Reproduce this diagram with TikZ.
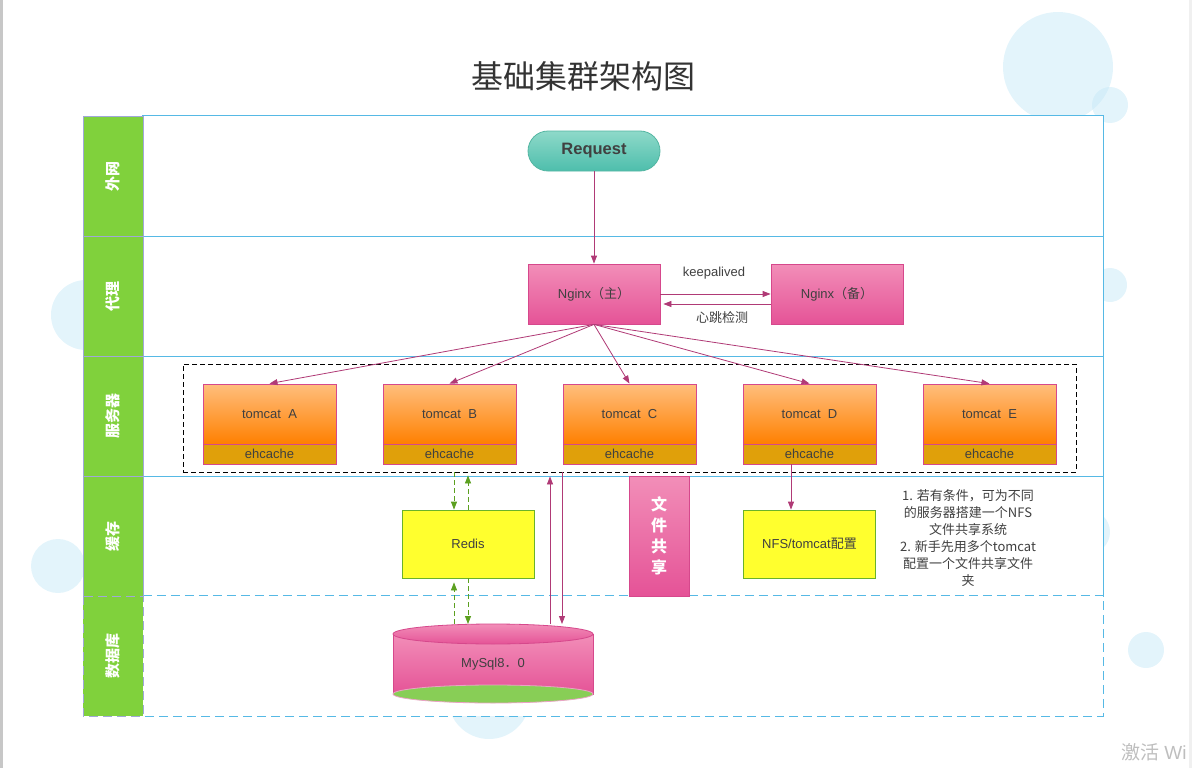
\documentclass[tikz,border=0pt]{standalone}
\usepackage{fontspec}
\setmainfont{Liberation Sans}
\newfontfamily\cjk{Noto Sans CJK SC}
\usetikzlibrary{arrows.meta}
\definecolor{Ink}{RGB}{64,64,64}
\definecolor{TitleInk}{RGB}{51,51,51}
\definecolor{LaneBlue}{RGB}{86,185,229}
\definecolor{LaneGreen}{RGB}{128,209,60}
\definecolor{HeadEdge}{RGB}{160,168,216}
\definecolor{Plum}{RGB}{176,58,118}
\definecolor{PinkTop}{RGB}{242,142,184}
\definecolor{PinkBot}{RGB}{229,83,151}
\definecolor{PinkEdge}{RGB}{214,72,140}
\definecolor{OrangeTop}{RGB}{255,190,125}
\definecolor{OrangeBot}{RGB}{255,128,0}
\definecolor{Ehcache}{RGB}{224,160,10}
\definecolor{Lemon}{RGB}{255,255,46}
\definecolor{LemonEdge}{RGB}{106,178,42}
\definecolor{TealTop}{RGB}{142,217,201}
\definecolor{TealBot}{RGB}{78,190,172}
\definecolor{TealEdge}{RGB}{84,182,162}
\definecolor{Bubble}{RGB}{199,233,247}
\definecolor{DbGreen}{RGB}{136,206,86}
\definecolor{CacheGreen}{RGB}{92,160,32}
\definecolor{Watermark}{RGB}{190,190,190}
\tikzset{
  >={Triangle[length=8pt,width=6pt]},
  box/.style={draw=PinkEdge,line width=0.8pt,align=center,text=Ink,font=\fontsize{13}{15}\selectfont,inner sep=2pt},
  proxy/.style={box,top color=PinkTop,bottom color=PinkBot,minimum width=132pt,minimum height=60pt},
  tomcat/.style={box,top color=OrangeTop,bottom color=OrangeBot,minimum width=133pt,minimum height=60pt},
  ehcache/.style={box,fill=Ehcache,minimum width=133pt,minimum height=20pt},
  cachebox/.style={box,draw=LemonEdge,fill=Lemon,minimum width=132pt,minimum height=68pt},
  share/.style={box,top color=PinkTop,bottom color=PinkBot,minimum width=60pt,minimum height=120pt,text=white,font=\cjk\bfseries\fontsize{16}{21}\selectfont},
  request/.style={box,draw=TealEdge,top color=TealTop,bottom color=TealBot,rounded corners=20pt,minimum width=132pt,minimum height=40pt,font=\bfseries\fontsize{16.5}{19}\selectfont},
  lanehead/.style={draw=HeadEdge,fill=LaneGreen,line width=0.8pt,text=white,font=\cjk\bfseries\fontsize{15}{18}\selectfont,minimum width=120pt,minimum height=60pt,rotate=90},
  lane/.style={fill=white,minimum width=960pt,minimum height=120pt},
  laneline/.style={draw=LaneBlue,line width=1.1pt},
  group/.style={draw=black,line width=0.8pt,dash pattern=on 5pt off 3pt,minimum width=893pt,minimum height=108pt},
  note/.style={text=Ink,align=center,font=\cjk\fontsize{13}{17}\selectfont},
  label/.style={text=Ink,font=\fontsize{13}{15}\selectfont},
  title/.style={text=TitleInk,font=\cjk\fontsize{32}{36}\selectfont},
  flow/.style={->,draw=Plum,line width=0.8pt},
  cache/.style={->,draw=CacheGreen,line width=0.8pt,dash pattern=on 5pt off 3pt},
  bubble/.style={fill=Bubble,fill opacity=0.5}
}
\begin{document}
\begin{tikzpicture}[x=1pt,y=-1pt]
  \useasboundingbox (0,0) rectangle (1192,768);
  \fill[bubble] (1058,67) circle[radius=55pt];
  \fill[bubble] (1110,105) circle[radius=18pt];
  \fill[bubble] (1110,285) circle[radius=17pt];
  \fill[bubble] (86,315) circle[radius=35pt];
  \fill[bubble] (58,566) circle[radius=27pt];
  \fill[bubble] (1088,532) circle[radius=22pt];
  \fill[bubble] (1146,650) circle[radius=18pt];
  \fill[bubble] (489,698) circle[radius=41pt];
  \fill[black!22] (0,0) rectangle (3,768);
  \fill[black!6] (1189,0) rectangle (1192,768);
  \node[title] (ttl) at (583,76) {基础集群架构图};
  \node[lane] (l1) at (623,176) {};
  \node[lane] (l2) at (623,296) {};
  \node[lane] (l3) at (623,416) {};
  \node[lane] (l4) at (623,536) {};
  \node[lane] (l5) at (623,656) {};
  \draw[laneline] (l4.south west) -- (l1.north west) -- (l1.north east) -- (l4.south east);
  \draw[laneline] (l1.south west) -- (l1.south east);
  \draw[laneline] (l2.south west) -- (l2.south east);
  \draw[laneline] (l3.south west) -- (l3.south east);
  \draw[laneline,dash pattern=on 9pt off 5pt] (l5.north west) -- (l5.north east) -- (l5.south east) -- (l5.south west);
  \node[lanehead] (h1) at (113,176) {外网};
  \node[lanehead] (h2) at (113,296) {代理};
  \node[lanehead] (h3) at (113,416) {服务器};
  \node[lanehead] (h4) at (113,536) {缓存};
  \node[lanehead,dash pattern=on 9pt off 5pt] (h5) at (113,656) {数据库};
  \node[request] (req) at (594,151) {Request};
  \node[proxy] (ngm) at (594,294) {Nginx{\cjk（主）}};
  \node[proxy] (ngb) at (837,294) {Nginx{\cjk（备）}};
  \node[label] (ka) at (714,273) {keepalived};
  \node[label,font=\cjk\fontsize{13}{15}\selectfont] (hb) at (722,318) {心跳检测};
  \node[group] (srv) at (629.5,418) {};
  \node[tomcat] (tA) at (269.5,414) {tomcat~~A};
  \node[ehcache] (eA) at (269.5,454) {ehcache};
  \node[tomcat] (tB) at (449.5,414) {tomcat~~B};
  \node[ehcache] (eB) at (449.5,454) {ehcache};
  \node[tomcat] (tC) at (629.5,414) {tomcat~~C};
  \node[ehcache] (eC) at (629.5,454) {ehcache};
  \node[tomcat] (tD) at (809.5,414) {tomcat~~D};
  \node[ehcache] (eD) at (809.5,454) {ehcache};
  \node[tomcat] (tE) at (989.5,414) {tomcat~~E};
  \node[ehcache] (eE) at (989.5,454) {ehcache};
  \node[cachebox] (redis) at (468,544) {Redis};
  \node[share] (share) at (659,536) {文\\件\\共\\享};
  \node[cachebox] (nfs) at (809.5,544) {NFS/tomcat{\cjk 配置}};
  \node[note] (tip) at (968,538) {1. 若有条件，可为不同\\的服务器搭建一个NFS\\文件共享系统\\2. 新手先用多个tomcat\\配置一个文件共享文件\\夹};
  \coordinate (dbtop) at (493,634);
  \coordinate (dbbot) at (493,694);
  \coordinate (dbrim) at (493,624);
  \draw[draw=PinkEdge,line width=0.8pt,top color=PinkTop,bottom color=PinkBot] (dbtop) ++(-100,0) -- ++(0,60) -- ++(200,0) -- ++(0,-60) -- cycle;
  \draw[draw=PinkEdge!50,line width=0.8pt,fill=DbGreen] (dbbot) ellipse[x radius=100pt,y radius=9pt];
  \draw[draw=PinkEdge,line width=0.8pt,top color=PinkTop,bottom color=PinkBot] (dbtop) ellipse[x radius=100pt,y radius=10pt];
  \node[label] (db) at (493,664) {MySql8{\cjk ．}0};
  \coordinate (cL) at (454,0);
  \coordinate (cR) at (468,0);
  \coordinate (mU) at (550,0);
  \coordinate (mD) at (562,0);
  \coordinate (nD) at (791,0);
  \draw[flow] (req.south) -- (ngm.north);
  \draw[flow] (ngm.east) -- (ngb.west);
  \draw[flow,shorten >=3pt] ([yshift=-10pt]ngb.west) -- ([yshift=-10pt]ngm.east);
  \draw[flow] (ngm.south) -- (tA.north);
  \draw[flow] (ngm.south) -- (tB.north);
  \draw[flow] (ngm.south) -- (tC.north);
  \draw[flow] (ngm.south) -- (tD.north);
  \draw[flow] (ngm.south) -- (tE.north);
  \draw[cache] (srv.south -| cL) -- (redis.north -| cL);
  \draw[cache,shorten >=3pt] (redis.north -| cR) -- (srv.south -| cR);
  \draw[cache,shorten >=4pt] (dbrim -| cL) -- (redis.south -| cL);
  \draw[cache] (redis.south -| cR) -- (dbrim -| cR);
  \draw[flow,shorten >=4pt] (dbrim -| mU) -- (srv.south -| mU);
  \draw[flow] (srv.south -| mD) -- (dbrim -| mD);
  \draw[flow] (eD.south -| nD) -- (nfs.north -| nD);
  \node[anchor=west,inner sep=0pt,text=Watermark,font=\fontsize{19}{22}\selectfont] (wm) at (1121,752) {{\cjk 激活} Wi};
\end{tikzpicture}
\end{document}
